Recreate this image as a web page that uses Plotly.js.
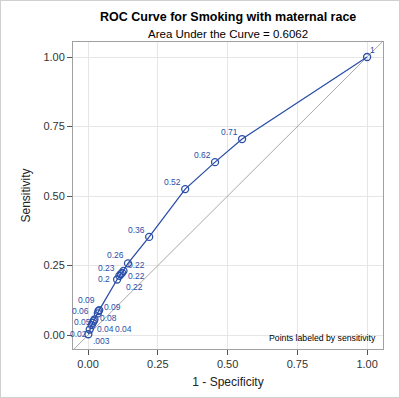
<!DOCTYPE html>
<html>
<head>
<meta charset="utf-8">
<script src="https://cdn.plot.ly/plotly-3.0.1.min.js"></script>
<style>
html,body{margin:0;padding:0;background:#fff;}
#wrap{position:relative;width:400px;height:398px;}
#wrap::after{content:"";position:absolute;left:0;top:0;right:0;bottom:0;border:1px solid #d0d0d0;pointer-events:none;z-index:10;}
</style>
</head>
<body>
<div id="wrap"><div id="chart"></div></div>
<script>
// 1 - specificity (false positive rate)
var fpr = [0.001, 0.006, 0.013, 0.017, 0.020, 0.023, 0.035, 0.037, 0.040,
           0.104, 0.112, 0.117, 0.122, 0.127, 0.143, 0.219, 0.348, 0.455, 0.552, 1.000];
// sensitivity (true positive rate)
var tpr = [0.003, 0.020, 0.036, 0.044, 0.050, 0.056, 0.078, 0.086, 0.090,
           0.200, 0.213, 0.219, 0.224, 0.231, 0.258, 0.353, 0.525, 0.622, 0.705, 1.000];
var labels = [".003", "0.02", "0.04", "0.04", "0.05", "0.06", "0.08", "0.09", "0.09",
              "0.2", "0.22", "0.22", "0.22", "0.23", "0.26", "0.36", "0.52", "0.62", "0.71", "1"];
// label offsets in pixels [right, up] (style only)
var labelOffset = [[13,-7],[-11,-4],[32,-4],[13,-6],[-11,-1],[-14,9],[11,-5],[-12,11],[13,3],
                   [-13,0],[15,-11],[16,-2],[14,8],[-17,3],[-12,8],
                   [-13,7],[-13,7],[-13,7],[-13,7],[5,7]];
var diagX = [-0.2, 1.2];
var diagY = [-0.2, 1.2];

var FONT = "Liberation Sans, Arial, sans-serif";
var blue = "#2B4FA8";
var traces = [
  {x: diagX, y: diagY, mode: "lines", line: {color: "#a8a8a8", width: 1},
   hoverinfo: "skip", showlegend: false},
  {x: fpr, y: tpr, mode: "lines+markers",
   line: {color: blue, width: 1.3},
   marker: {symbol: "circle-open", size: 7, color: blue, line: {width: 1.3, color: blue}},
   cliponaxis: false, showlegend: false}
];

var annotations = [
  {text: "<b>ROC Curve for Smoking with maternal race</b>", xref: "paper", yref: "paper",
   x: 0.5, y: 1, yshift: 34, showarrow: false,
   font: {family: FONT, size: 12.5, color: "#000"}},
  {text: "Area Under the Curve = 0.6062", xref: "paper", yref: "paper",
   x: 0.5, y: 1, yshift: 16, showarrow: false,
   font: {family: FONT, size: 11.5, color: "#000"}},
  {text: "Points labeled by sensitivity", xref: "paper", yref: "paper",
   x: 0.985, y: 0.012, xanchor: "right", yanchor: "bottom", showarrow: false,
   font: {family: FONT, size: 8.7, color: "#000"}}
];
for (var i = 0; i < fpr.length; i++) {
  annotations.push({
    x: fpr[i], y: tpr[i], xref: "x", yref: "y", text: labels[i], showarrow: false,
    xshift: labelOffset[i][0], yshift: labelOffset[i][1], borderpad: 0,
    xanchor: "center", yanchor: "middle",
    font: {family: FONT, size: 8.5, color: blue}
  });
}

var axisCommon = {
  showline: true, mirror: true, linecolor: "#a0a0a0", linewidth: 1,
  showgrid: true, gridcolor: "#e6e6e6", gridwidth: 1,
  zeroline: false, ticks: "outside", ticklen: 5, tickcolor: "#555",
  tickfont: {family: FONT, size: 11, color: "#333"},
  tickvals: [0, 0.25, 0.5, 0.75, 1], ticktext: ["0.00", "0.25", "0.50", "0.75", "1.00"]
};

var layout = {
  width: 400, height: 398,
  margin: {l: 73, r: 17, t: 42, b: 49},
  paper_bgcolor: "#fff", plot_bgcolor: "#fff",
  showlegend: false,
  xaxis: Object.assign({}, axisCommon, {
    range: [-0.054, 1.057],
    title: {text: "1 - Specificity", font: {family: FONT, size: 12, color: "#222"}, standoff: 8}
  }),
  yaxis: Object.assign({}, axisCommon, {
    range: [-0.05, 1.054],
    title: {text: "Sensitivity", font: {family: FONT, size: 12, color: "#222"}, standoff: 10}
  }),
  annotations: annotations
};

Plotly.newPlot("chart", traces, layout, {displayModeBar: false, staticPlot: true});
</script>
</body>
</html>
